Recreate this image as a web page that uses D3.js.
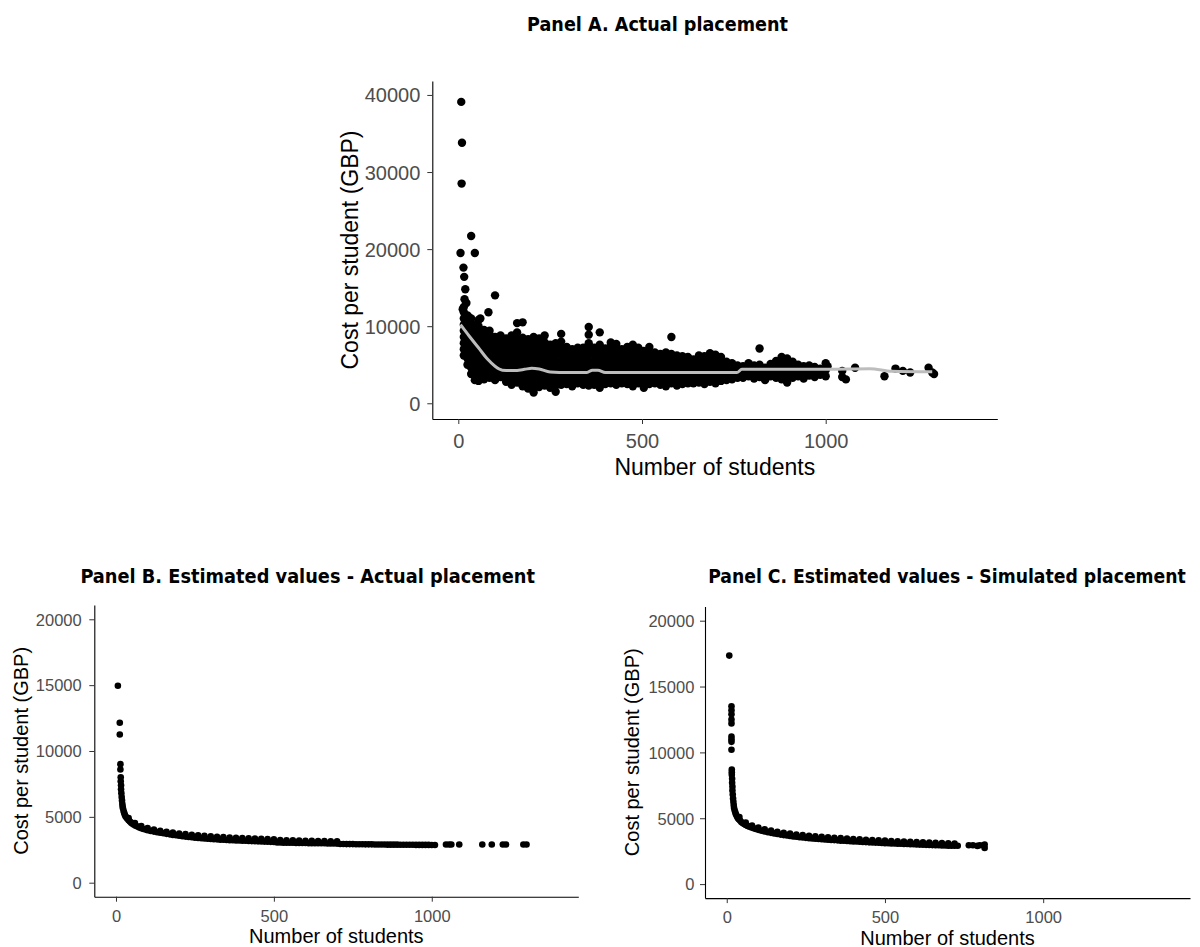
<!DOCTYPE html>
<html>
<head>
<meta charset="utf-8">
<script src="https://cdn.jsdelivr.net/npm/d3@7"></script>
<style>
  html, body { margin: 0; padding: 0; background: #fff; }
  svg { display: block; }
  .tick text { fill: #4d4d4d; font-family: "Liberation Sans", Arial, sans-serif; }
  .tick line { stroke: #333; }
  .domain { stroke: #000; stroke-width: 1.1px; }
</style>
</head>
<body>
<svg id="chart" width="1200" height="947"></svg>
<script>
// ---------------- DATA ----------------
const titles = [
  "Panel A. Actual placement",
  "Panel B. Estimated values - Actual placement",
  "Panel C. Estimated values - Simulated placement"
];
const xLabel = "Number of students";
const yLabel = "Cost per student (GBP)";
const ticksA_y = [0, 10000, 20000, 30000, 40000];
const ticksBC_y = [0, 5000, 10000, 15000, 20000];
const ticks_x = [0, 500, 1000];

// Panel A: isolated / outlying schools (x = students, y = cost)
const panelA_outX = [8, 10, 9, 6, 35, 45, 14, 16, 19, 17, 22, 12, 28, 100, 82, 60, 30, 580, 820, 385, 355, 175, 160, 280, 1005, 1045, 1045, 1055, 1080, 1160, 1190, 1210, 1230, 1280, 1290, 1295];
const panelA_outY = [39100, 33800, 28500, 19500, 21700, 19500, 17600, 16400, 14800, 13500, 13000, 12200, 11200, 14000, 11800, 11000, 10500, 8600, 7100, 9200, 9900, 10500, 10400, 9000, 4800, 3400, 4200, 3100, 4600, 3500, 4500, 4200, 4000, 4600, 4000, 3800];

// Panel A: dense mass of schools, grouped by number of students
const panelA_colX = [15, 25, 35, 45, 55, 70, 85, 100, 115, 130, 145, 160, 175, 190, 205, 220, 235, 250, 265, 280,
  295, 310, 325, 340, 355, 370, 385, 400, 415, 430, 445, 460, 475, 490, 505, 520, 535, 550, 565, 580,
  595, 610, 625, 640, 655, 670, 685, 700, 715, 730, 745, 760, 775, 790, 805, 820, 835, 850, 865, 880,
  895, 910, 925, 940, 955, 970, 985, 1000];
const panelA_colY = [
  [6200, 7000, 7800, 8600, 9400, 10200, 11000, 11800, 12500],
  [5000, 5800, 6600, 7400, 8200, 9000, 9800, 10600, 11400],
  [3800, 4600, 5400, 6200, 7000, 7800, 8600, 9400, 10200, 11000],
  [3000, 3800, 4600, 5400, 6200, 7000, 7800, 8600, 9400, 10200],
  [2900, 3600, 4400, 5200, 6000, 6800, 7600, 8400, 9200, 10000, 10800],
  [3100, 3900, 4700, 5500, 6300, 7100, 7900, 8700, 9500],
  [3300, 4100, 4900, 5700, 6500, 7300, 8100, 8900, 9400],
  [3000, 3800, 4600, 5400, 6200, 7000, 7800, 8600],
  [3400, 4200, 5000, 5800, 6600, 7400, 8200, 8800],
  [2800, 3600, 4400, 5200, 6000, 6800, 7600, 8400],
  [2400, 3200, 4000, 4800, 5600, 6400, 7200, 8000, 8800],
  [2700, 3500, 4300, 5100, 5900, 6700, 7500, 8300, 9200],
  [2200, 3000, 3800, 4600, 5400, 6200, 7000, 7800, 8500],
  [1900, 2700, 3500, 4300, 5100, 5900, 6700, 7500, 8300],
  [1400, 2200, 3000, 3800, 4600, 5400, 6200, 7000, 7800, 8600],
  [2100, 2900, 3700, 4500, 5300, 6100, 6900, 7700, 8400],
  [2300, 3100, 3900, 4700, 5500, 6300, 7100, 7900, 8800],
  [2000, 2800, 3600, 4400, 5200, 6000, 6800, 7600],
  [1500, 2300, 3100, 3900, 4700, 5500, 6300, 7100, 7800],
  [2400, 3200, 4000, 4800, 5600, 6400, 7200, 8000],
  [2500, 3300, 4100, 4900, 5700, 6500, 7300],
  [2200, 3000, 3800, 4600, 5400, 6200, 7000],
  [2600, 3400, 4200, 5000, 5800, 6600, 7200],
  [2400, 3200, 4000, 4800, 5600, 6400, 7200],
  [2300, 3100, 3900, 4700, 5500, 6300, 7100, 7800, 8900],
  [2400, 3200, 4000, 4800, 5600, 6400, 7200],
  [2000, 2800, 3600, 4400, 5200, 6000, 6800, 7600],
  [2500, 3300, 4100, 4900, 5700, 6500, 7100],
  [2600, 3400, 4200, 5000, 5800, 6600, 7400, 7900],
  [2400, 3200, 4000, 4800, 5600, 6400, 7200, 7700],
  [2600, 3400, 4200, 5000, 5800, 6600, 7000],
  [2500, 3300, 4100, 4900, 5700, 6500, 7300],
  [2200, 3000, 3800, 4600, 5400, 6200, 7000, 7600],
  [2600, 3400, 4200, 5000, 5800, 6600, 7200],
  [2000, 2800, 3600, 4400, 5200, 6000, 6800],
  [2500, 3300, 4100, 4900, 5700, 6500, 7300],
  [2600, 3400, 4200, 5000, 5800, 6600],
  [2400, 3200, 4000, 4800, 5600, 6400],
  [2200, 3000, 3800, 4600, 5400, 6200, 6600],
  [2600, 3400, 4200, 5000, 5800, 6400],
  [2300, 3100, 3900, 4700, 5500, 6200],
  [2500, 3300, 4100, 4900, 5700, 6100],
  [2600, 3400, 4200, 5000, 5800, 6000],
  [2600, 3400, 4200, 5000, 5700],
  [2700, 3500, 4300, 5100, 5900, 6200],
  [2500, 3300, 4100, 4900, 5700, 6100],
  [2800, 3600, 4400, 5200, 6000, 6500],
  [2600, 3400, 4200, 5000, 5800, 6300],
  [2900, 3700, 4500, 5300, 6000],
  [3000, 3800, 4600, 5400],
  [3100, 3900, 4700, 5200],
  [3300, 4100, 4900],
  [3300, 4100, 4800],
  [3500, 4300, 5200],
  [3200, 4000, 4900],
  [3400, 4200, 5000],
  [3000, 3800, 4600],
  [3500, 4300, 5100],
  [3300, 4100, 4900, 5500],
  [3100, 3900, 4700, 5500, 6000],
  [2700, 3500, 4300, 5100, 5800],
  [3300, 4100, 4900, 5400],
  [3500, 4300, 5000],
  [3200, 4000, 4800],
  [3600, 4400, 4900],
  [3400, 4200, 4700],
  [3700, 4500],
  [3500, 4300, 5200]
];

// Panel A: smoothed trend (grey line)
const smoothA_x = [6, 30, 55, 80, 100, 120, 150, 180, 200, 220, 250, 300, 350, 365, 380, 400, 500, 600, 700, 758, 772, 900, 1000, 1120, 1180, 1290];
const smoothA_y = [10200, 8700, 7200, 5700, 4800, 4300, 4250, 4400, 4550, 4450, 4050, 3980, 4000, 4300, 4300, 4000, 3980, 3980, 3980, 3980, 4400, 4420, 4420, 4480, 4150, 4080];

// Panel B: estimated values, actual placement
const panelB_x = [6, 12, 12, 14, 14,
  15, 15, 16, 16, 17, 18, 19, 20, 21, 22, 24, 26, 28, 30, 33, 36, 40, 44, 48, 52, 57, 62, 68, 74, 80, 87, 94, 100,
  110, 120, 130, 140, 150, 160, 170, 180, 190, 200, 210, 220, 230, 240, 250, 260, 270, 280, 290, 300,
  310, 320, 330, 340, 350, 360, 370, 380, 390, 400, 410, 420, 430, 440, 450, 460, 470, 480, 490, 500,
  510, 520, 530, 540, 550, 560, 570, 580, 590, 600, 610, 620, 630, 640, 650, 660, 670, 680, 690, 700,
  710, 720, 730, 740, 750, 760, 770, 780, 790, 800, 810, 820, 830, 840, 850, 860, 870, 880, 890, 900,
  910, 920, 930, 940, 950, 960, 970, 980, 990, 1000, 1010,
  40, 60, 80, 100, 120, 140, 160, 180, 200, 220, 240, 260, 280, 300, 320, 340, 360, 380, 400, 420,
  440, 460, 480, 500, 520, 540, 560, 580, 600, 620, 640, 660, 680, 700,
  1045, 1055, 1062, 1087, 1160, 1190, 1225, 1235, 1290, 1300];
const panelB_y = [14950, 12150, 11250, 9000, 8600,
  8000, 7700, 7400, 7100, 6800, 6500, 6250, 6000, 5800, 5650, 5450, 5300, 5150, 5050, 4950, 4850, 4750, 4650, 4560, 4480, 4400, 4330, 4260, 4200, 4140, 4080, 4030, 3990,
  3930, 3880, 3830, 3790, 3750, 3710, 3670, 3630, 3600, 3560, 3530, 3500, 3470, 3450, 3420, 3400, 3380, 3360, 3340, 3320,
  3300, 3290, 3270, 3260, 3240, 3230, 3220, 3210, 3200, 3190, 3180, 3170, 3160, 3150, 3140, 3130, 3120, 3110, 3100, 3090,
  3050, 3050, 3040, 3040, 3030, 3030, 3020, 3020, 3010, 3010, 3000, 3000, 3000, 2990, 2990, 2990, 2980, 2980, 2980, 2970,
  2940, 2940, 2930, 2930, 2930, 2920, 2920, 2920, 2910, 2910, 2910, 2900, 2900, 2900, 2900, 2890, 2890, 2890, 2890, 2880,
  2880, 2880, 2880, 2880, 2870, 2870, 2870, 2870, 2870, 2860, 2860,
  4900, 4520, 4300, 4150, 4040, 3950, 3870, 3800, 3740, 3690, 3640, 3600, 3560, 3520, 3490, 3460, 3430, 3410, 3390, 3370,
  3350, 3330, 3310, 3290, 3230, 3220, 3210, 3200, 3190, 3180, 3170, 3160, 3150, 3140,
  2900, 2900, 2900, 2900, 2900, 2900, 2900, 2900, 2900, 2900];

// Panel C: estimated values, simulated placement
const panelC_x = [8, 15, 15, 15, 15, 15, 15, 15, 15, 15, 16, 16, 16,
  17, 17, 18, 18, 19, 20, 21, 22, 23, 25, 27, 29, 32, 35, 38, 42, 46, 50, 55, 60, 66, 72, 78, 85, 92, 100,
  110, 120, 130, 140, 150, 160, 170, 180, 190, 200, 210, 220, 230, 240, 250, 260, 270, 280, 290, 300,
  310, 320, 330, 340, 350, 360, 370, 380, 390, 400, 410, 420, 430, 440, 450, 460, 470, 480, 490, 500,
  510, 520, 530, 540, 550, 560, 570, 580, 590, 600, 610, 620, 630, 640, 650, 660, 670, 680, 690, 700,
  710, 720, 730,
  40, 60, 80, 100, 120, 140, 160, 180, 200, 220, 240, 260, 280, 300, 320, 340, 360, 380, 400, 420,
  440, 460, 480, 500, 520, 540, 560, 580, 600, 620, 640, 660, 680, 700, 720,
  765, 778, 792, 800, 812, 815, 815];
const panelC_y = [17350, 13500, 13200, 12900, 12500, 12200, 11200, 11000, 10800, 10200, 8700, 8500, 8300,
  8000, 7700, 7400, 7100, 6800, 6500, 6250, 6000, 5800, 5600, 5450, 5300, 5150, 5020, 4920, 4820, 4720, 4640, 4560, 4490, 4420, 4360, 4300, 4240, 4180, 4120,
  4050, 3990, 3940, 3890, 3850, 3800, 3760, 3720, 3690, 3650, 3620, 3590, 3560, 3540, 3510, 3490, 3470, 3450, 3430, 3410,
  3390, 3370, 3350, 3340, 3320, 3300, 3290, 3270, 3260, 3240, 3230, 3210, 3200, 3190, 3170, 3160, 3150, 3140, 3120, 3110,
  3100, 3090, 3080, 3070, 3060, 3050, 3040, 3030, 3020, 3010, 3000, 2990, 2980, 2970, 2960, 2950, 2950, 2940, 2930, 2920,
  2920, 2910, 2910,
  5100, 4680, 4450, 4290, 4160, 4060, 3970, 3900, 3830, 3770, 3720, 3670, 3630, 3590, 3550, 3520, 3490, 3460, 3430, 3400,
  3370, 3350, 3320, 3300, 3270, 3250, 3230, 3210, 3190, 3170, 3150, 3130, 3110, 3090, 3070,
  2950, 2950, 2900, 2950, 2950, 2750, 3000];

// ---------------- DRAWING ----------------
const svg = d3.select("#chart");
const FONT = '"Liberation Sans", Arial, sans-serif';
const TITLE_FONT = '"Liberation Sans Narrow", "Arial Narrow", "DejaVu Sans Condensed", sans-serif';

function panel(cfg) {
  const g = svg.append("g");
  const x = d3.scaleLinear().domain(cfg.xDomain).range([cfg.left, cfg.right]);
  const y = d3.scaleLinear().domain(cfg.yDomain).range([cfg.bottom, cfg.top]);

  // points
  g.append("g").selectAll("circle").data(cfg.points).join("circle")
    .attr("cx", d => x(d[0])).attr("cy", d => y(d[1]))
    .attr("r", cfg.r).attr("fill", "#000");

  if (cfg.smooth) {
    g.append("path").datum(cfg.smooth)
      .attr("fill", "none").attr("stroke", "#bdbdbd").attr("stroke-width", 3)
      .attr("stroke-linejoin", "round")
      .attr("d", d3.line().x(d => x(d[0])).y(d => y(d[1])).curve(d3.curveMonotoneX));
  }

  // axes
  const yAx = g.append("g").attr("transform", `translate(${cfg.left},0)`)
    .call(d3.axisLeft(y).tickValues(cfg.yTicks).tickFormat(d3.format("d")).tickSize(5).tickSizeOuter(0).tickPadding(cfg.yPad));
  yAx.selectAll("text").style("font-size", cfg.tickFont + "px").attr("dy", "0.35em");
  const xAx = g.append("g").attr("transform", `translate(0,${cfg.bottom})`)
    .call(d3.axisBottom(x).tickValues(ticks_x).tickFormat(d3.format("d")).tickSize(5).tickSizeOuter(0));
  xAx.selectAll("text").style("font-size", cfg.tickFont + "px").attr("dy", null).attr("y", cfg.xTickBase);

  // axis titles
  g.append("text").text(xLabel)
    .attr("x", (cfg.left + cfg.right) / 2).attr("y", cfg.xTitleY)
    .attr("text-anchor", "middle").style("font-family", FONT).style("font-size", cfg.titleFont + "px").attr("fill", "#000");
  g.append("text").text(yLabel)
    .attr("transform", `translate(${cfg.yTitleX},${(cfg.top + cfg.bottom) / 2}) rotate(-90)`)
    .attr("text-anchor", "middle").style("font-family", FONT).style("font-size", cfg.titleFont + "px").attr("fill", "#000");

  // panel title: sized so that its width matches the reference
  const t = g.append("text").text(cfg.title)
    .attr("x", cfg.titleX).attr("y", cfg.titleY)
    .attr("text-anchor", "middle")
    .style("font-family", TITLE_FONT).style("font-weight", "bold").style("font-size", "23px").attr("fill", "#000");
  const w = t.node().getComputedTextLength();
  if (w > 0) t.style("font-size", Math.min(24, 23 * cfg.titleLen / w) + "px");
}

const pointsA = [];
panelA_colX.forEach((cx, i) => panelA_colY[i].forEach(v => pointsA.push([cx, v])));
panelA_outX.forEach((v, i) => pointsA.push([v, panelA_outY[i]]));

panel({
  title: titles[0], titleX: 657.5, titleY: 31, titleLen: 261,
  xDomain: [-70.8, 1467.1], yDomain: [-2040, 41810],
  left: 432.3, right: 997.3, top: 81, bottom: 419,
  points: pointsA, r: 4.2,
  smooth: smoothA_x.map((v, i) => [v, smoothA_y[i]]),
  yTicks: ticksA_y, yPad: 7, tickFont: 20, xTickBase: 29,
  titleFont: 23, xTitleY: 475, yTitleX: 357.5
});

panel({
  title: titles[1], titleX: 307.7, titleY: 583.4, titleLen: 455,
  xDomain: [-68.7, 1464], yDomain: [-1063, 21085],
  left: 94.3, right: 578.3, top: 605, bottom: 896.7,
  points: panelB_x.map((v, i) => [v, panelB_y[i]]), r: 3.3,
  yTicks: ticksBC_y, yPad: 7.6, tickFont: 16.5, xTickBase: 25.3,
  titleFont: 20, xTitleY: 943, yTitleX: 28
});

panel({
  title: titles[2], titleX: 947, titleY: 583.4, titleLen: 478,
  xDomain: [-68.7, 1464], yDomain: [-1063, 21085],
  left: 705, right: 1190, top: 606.4, bottom: 898.1,
  points: panelC_x.map((v, i) => [v, panelC_y[i]]), r: 3.3,
  yTicks: ticksBC_y, yPad: 5.7, tickFont: 16.5, xTickBase: 25.4,
  titleFont: 20, xTitleY: 944.5, yTitleX: 638.5
});
</script>
</body>
</html>
